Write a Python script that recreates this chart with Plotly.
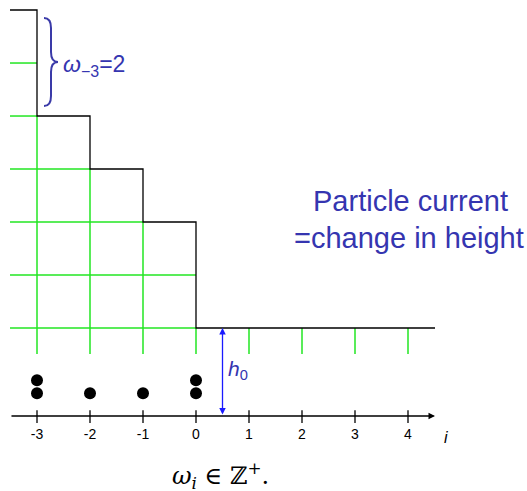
import plotly.graph_objects as go

# ---- data ----
sites = [-3, -2, -1, 0, 1, 2, 3, 4]
omega = [2, 1, 1, 2, 0, 0, 0, 0]          # particles per site
tick_labels = ["-3", "-2", "-1", "0", "1", "2", "3", "4"]
h0 = 1.66                                  # height of the reference level above the axis
x_left, x_right = -3.51, 4.51

# heights: total to the left, decreasing by omega at each site
total = sum(omega)
heights_after = []
h = total
for w in omega:
    h -= w
    heights_after.append(h)
step_x = [x_left] + sites[:4] + [x_right]
step_y = [total] + heights_after[:4] + [0]

W, H = 527, 491
ppu = 53.0
x0_px, y0_px = 196, 416
xr = [-x0_px / ppu, (W - x0_px) / ppu]
yr = [-(H - y0_px) / ppu, y0_px / ppu]

GREEN = "#22e622"
BLUE_TXT = "#3535b0"

fig = go.Figure()

# green grid (under the staircase)
gx, gy = [], []
for k in range(total):
    xe = x_left
    for s, ha in zip(sites, heights_after):
        xe = s
        if ha <= k:
            break
    gx += [x_left, xe, None]
    gy += [h0 + k, h0 + k, None]
for s, ha in zip(sites, heights_after):
    gx += [s, s, None]
    gy += [h0 - 0.49, h0 + ha, None]
fig.add_trace(go.Scatter(x=gx, y=gy, mode="lines", line=dict(color=GREEN, width=1.5),
                         hoverinfo="skip", showlegend=False))

# staircase
fig.add_trace(go.Scatter(x=step_x, y=[h0 + v for v in step_y], mode="lines",
                         line=dict(color="black", width=1.3, shape="hv"),
                         hoverinfo="skip", showlegend=False))

# ticks on the axis
tx, ty = [], []
for s in sites:
    tx += [s, s, None]
    ty += [-0.13, 0.11, None]
fig.add_trace(go.Scatter(x=tx, y=ty, mode="lines", line=dict(color="black", width=1.3),
                         hoverinfo="skip", showlegend=False))

# particles
px_, py_ = [], []
for s, w in zip(sites, omega):
    for j in range(w):
        px_.append(s)
        py_.append(0.43 + 0.245 * j)
fig.add_trace(go.Scatter(x=px_, y=py_, mode="markers",
                         marker=dict(color="black", size=12),
                         hoverinfo="skip", showlegend=False))

# tick labels
fig.add_trace(go.Scatter(x=sites, y=[-0.37] * len(sites), mode="text", text=tick_labels,
                         textfont=dict(family="Liberation Sans", size=14, color="black"),
                         hoverinfo="skip", showlegend=False))

annotations = []
# x axis arrow
annotations.append(dict(x=x_right, y=0, ax=x_left, ay=0, xref="x", yref="y", axref="x", ayref="y",
                        showarrow=True, arrowhead=2, arrowsize=1, arrowwidth=1.3, arrowcolor="black",
                        text=""))
annotations.append(dict(x=4.72, y=-0.41, xref="x", yref="y", showarrow=False,
                        xanchor="center", yanchor="middle",
                        text="<i>i</i>", font=dict(family="Liberation Sans", size=16, color="black")))
# h0 arrow
annotations.append(dict(x=0.5, y=h0, ax=0.5, ay=0, xref="x", yref="y", axref="x", ayref="y",
                        showarrow=True, arrowhead=2, startarrowhead=2, arrowside="end+start",
                        arrowsize=1, arrowwidth=1.3, arrowcolor="#1a1aff", text=""))
annotations.append(dict(x=0.57, y=0.87, xref="x", yref="y", showarrow=False,
                        xanchor="left", yanchor="middle",
                        text="<i>h</i><sub>0</sub>",
                        font=dict(family="Liberation Sans", size=21, color=BLUE_TXT)))
# brace label
annotations.append(dict(x=-2.54, y=6.62, xref="x", yref="y", showarrow=False,
                        xanchor="left", yanchor="middle",
                        text="<i>ω</i><sub><span style='font-size:16px'>−3</span></sub>=2",
                        font=dict(family="Liberation Sans", size=23, color=BLUE_TXT)))
# right text
annotations.append(dict(x=410 / W, y=1 - 201 / H, xref="paper", yref="paper", showarrow=False,
                        xanchor="center", yanchor="middle",
                        text="Particle current",
                        font=dict(family="Liberation Sans", size=29, color=BLUE_TXT)))
annotations.append(dict(x=409 / W, y=1 - 238 / H, xref="paper", yref="paper", showarrow=False,
                        xanchor="center", yanchor="middle",
                        text="=change in height",
                        font=dict(family="Liberation Sans", size=29, color=BLUE_TXT)))
# bottom formula
annotations.append(dict(x=220 / W, y=1 - 475 / H, xref="paper", yref="paper", showarrow=False,
                        xanchor="center", yanchor="middle",
                        text="<i>ω<sub>i</sub></i> ∈ ℤ<sup>+</sup>.",
                        font=dict(family="DejaVu Serif", size=24, color="black")))

# brace shape (data coordinates)
def X(px):
    return (px - x0_px) / ppu
def Y(py):
    return (y0_px - py) / ppu
xa, xb, xc = X(44), X(51), X(58)
yt, ym, yb = Y(18), Y(62), Y(106)
d = 5 / ppu
path = (f"M {xa},{yt} Q {xb},{yt} {xb},{yt - 2*d} L {xb},{ym + 2*d} "
        f"Q {xb},{ym} {xc},{ym} Q {xb},{ym} {xb},{ym - 2*d} "
        f"L {xb},{yb + 2*d} Q {xb},{yb} {xa},{yb}")

fig.update_layout(
    width=W, height=H, margin=dict(l=0, r=0, t=0, b=0),
    paper_bgcolor="white", plot_bgcolor="white",
    xaxis=dict(range=xr, visible=False, fixedrange=True),
    yaxis=dict(range=yr, visible=False, fixedrange=True),
    annotations=annotations,
    shapes=[dict(type="path", path=path, xref="x", yref="y",
                 line=dict(color="#3a3aa8", width=2))],
    showlegend=False,
)

fig.write_html("out.html", config={"displayModeBar": False},
               post_script="document.body.style.margin='0px';")
